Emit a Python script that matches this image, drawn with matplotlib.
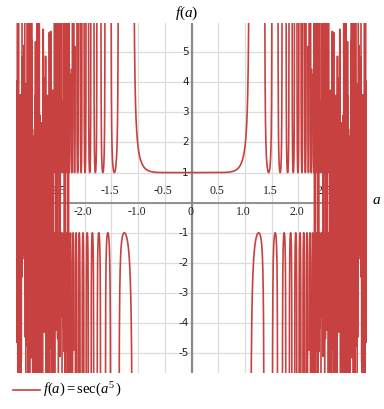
import numpy as np
import matplotlib
matplotlib.use("Agg")
import matplotlib.pyplot as plt

plt.rcParams['mathtext.fontset'] = 'custom'
plt.rcParams['mathtext.rm'] = 'Liberation Serif'
plt.rcParams['mathtext.it'] = 'Liberation Serif:italic'

# chart definition
x_min, x_max = -3.285, 3.285
y_min, y_max = -5.66, 5.98
n_samples = 3600
break_threshold = 13.0
x_ticks = [-2.5, -2.0, -1.5, -1.0, -0.5, 0, 0.5, 1.0, 1.5, 2.0, 2.5, 3]
x_tick_labels = ["-2.5", "-2.0", "-1.5", "-1.0", "-0.5", "0", "0.5", "1.0", "1.5", "2.0", "2.5", "3"]
y_ticks = [-5, -4, -3, -2, -1, 1, 2, 3, 4, 5]
y_tick_labels = ["-5", "-4", "-3", "-2", "-1", "1", "2", "3", "4", "5"]
legend_label = r'$f(a) = \mathrm{sec}(a^{5}\,)$'

color = '#c84141'

a = np.linspace(x_min, x_max, n_samples)
c = np.cos(a ** 5)
f = 1.0 / c
# break the curve only at real asymptotes (sign change with a large jump)
xs, ys = [], []
for i in range(len(a)):
    if i > 0 and np.sign(c[i]) != np.sign(c[i - 1]) and \
            max(abs(f[i]), abs(f[i - 1])) > break_threshold:
        xs.append(np.nan)
        ys.append(np.nan)
    xs.append(a[i])
    ys.append(f[i])
xs = np.array(xs)
ys = np.clip(np.array(ys), -60, 60)

fig = plt.figure(figsize=(3.84, 4.09), dpi=100)
ax = fig.add_axes([16 / 384, 36 / 409, 351 / 384, 350.3 / 409])
ax.set_xlim(x_min, x_max)
ax.set_ylim(y_min, y_max)
for s in ax.spines.values():
    s.set_visible(False)
ax.set_xticks([])
ax.set_yticks([])

grid_col = '#dcdcdc'
for gx in np.arange(-3.0, 3.01, 0.5):
    ax.axvline(gx, color=grid_col, lw=0.9, zorder=0)
for gy in range(-5, 6):
    ax.axhline(gy, color=grid_col, lw=0.9, zorder=0)

ax.axhline(0, color='#8a8a8a', lw=1.3, zorder=1)
ax.axvline(0, color='#8a8a8a', lw=1.6, zorder=1)

ax.plot(xs, ys, color=color, lw=1.2, zorder=3)

# x tick labels (alternating above / below the axis)
for v, lab in zip(x_ticks, x_tick_labels):
    if abs(v * 2) % 2 == 1:
        ax.annotate(lab, (v, 0), xytext=(-1, 4), textcoords='offset points',
                    ha='center', va='bottom', fontsize=8.5, family='Liberation Serif',
                    color='#222222', zorder=2)
    else:
        ax.annotate(lab, (v, 0), xytext=(-1, -2.5), textcoords='offset points',
                    ha='center', va='top', fontsize=8.5, family='Liberation Serif',
                    color='#222222', zorder=2)

for v, lab in zip(y_ticks, y_tick_labels):
    ax.annotate(lab, (0, v), xytext=(-2, 0), textcoords='offset points',
                ha='right', va='center', fontsize=7.5, family='DejaVu Sans',
                color='#222222', zorder=2)

fig.text(187 / 384, 1 - 13 / 409, r'$f(a)$', ha='center', va='center', fontsize=11)
fig.text(377 / 384, 1 - 199 / 409, r'$a$', ha='center', va='center', fontsize=11)

# legend
fig.add_artist(plt.Line2D([13 / 384, 40 / 384], [1 - 390 / 409, 1 - 390 / 409],
                          color=color, lw=1.2))
fig.text(43 / 384, 1 - 390 / 409, legend_label, ha='left', va='center', fontsize=10.5)

fig.savefig('out.png', dpi=100)
